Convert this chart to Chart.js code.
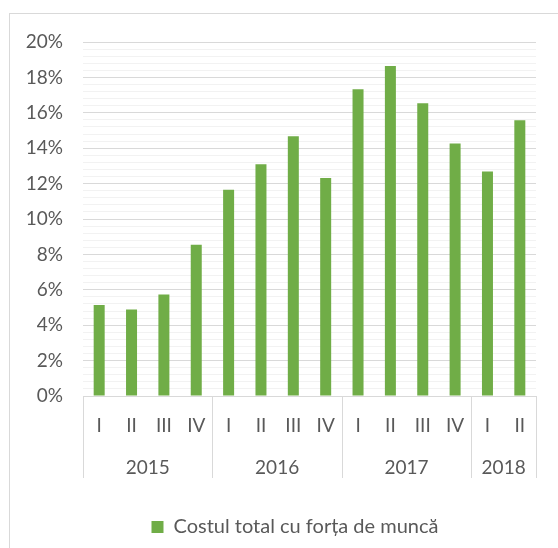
<!DOCTYPE html>
<html lang="ro">
<head>
<meta charset="UTF-8">
<title>Costul total cu forța de muncă</title>
<style>
  body { margin: 0; background: #fff; }
  .cadru { position: absolute; left: 9px; top: 13px; width: 600px; height: 600px; border: 1px solid #d9d9d9; }
  #grafic { position: absolute; left: 0; top: 0; }
</style>
</head>
<body>
<div class="cadru"></div>
<canvas id="grafic" width="558" height="548"></canvas>

<script src="https://cdn.jsdelivr.net/npm/chart.js"></script>
<script>
    // date
    const trimestre = ['I', 'II', 'III', 'IV', 'I', 'II', 'III', 'IV', 'I', 'II', 'III', 'IV', 'I', 'II'];
    const ani = ['2015', '2016', '2017', '2018'];
    const trimestrePeAn = [4, 4, 4, 2];
    const costTotal = [5.14, 4.89, 5.74, 8.54, 11.65, 13.10, 14.68, 12.32, 17.33, 18.65, 16.54, 14.26, 12.68, 15.58];
    const etichetaSerie = 'Costul total cu forța de muncă';

    const culoareGrila = '#d9d9d9';

    // separatoare si anii sub axa x
    const grupuriAni = {
        id: 'grupuriAni',
        afterLayout(chart) {
            // legenda e centrata pe tot cadrul, nu doar pe zona graficului
            chart.legend.left += 27;
            chart.legend.right += 27;
        },
        afterDraw(chart) {
            const x = chart.scales.x;
            const ctx = chart.ctx;
            const sus = chart.chartArea.bottom;
            const jos = sus + 82;
            ctx.save();
            ctx.strokeStyle = culoareGrila;
            ctx.lineWidth = 1;
            ctx.fillStyle = '#595959';
            ctx.font = '19px Lato';
            ctx.textAlign = 'center';
            ctx.textBaseline = 'middle';
            let start = 0;
            const linie = (px) => {
                const xx = Math.round(px) + 0.5;
                ctx.beginPath();
                ctx.moveTo(xx, sus);
                ctx.lineTo(xx, jos);
                ctx.stroke();
            };
            linie(x.getPixelForValue(-0.5));
            trimestrePeAn.forEach(function (n, i) {
                const a = x.getPixelForValue(start - 0.5);
                const b = x.getPixelForValue(start + n - 0.5);
                linie(b);
                ctx.fillText(ani[i], (a + b) / 2, sus + 72);
                start += n;
            });
            ctx.restore();
        }
    };

    Chart.defaults.font.family = 'Lato';
    Chart.defaults.font.size = 19;
    Chart.defaults.color = '#595959';

    new Chart(document.getElementById('grafic'), {
        type: 'bar',
        data: {
            labels: trimestre,
            datasets: [{
                label: etichetaSerie,
                data: costTotal,
                backgroundColor: '#70ad47',
                borderWidth: 0,
                categoryPercentage: 1,
                barPercentage: 0.34
            }]
        },
        options: {
            responsive: false,
            animation: false,
            layout: { padding: { top: 42, right: 22, bottom: 1, left: 0 } },
            plugins: {
                tooltip: { enabled: false },
                legend: {
                    position: 'bottom',
                    labels: { boxWidth: 12, boxHeight: 12, padding: 10, font: { size: 20 } }
                }
            },
            scales: {
                x: {
                    grid: { display: false },
                    border: { display: false },
                    ticks: { padding: 10, maxRotation: 0, autoSkip: false },
                    afterFit(scale) { scale.height = 111; }
                },
                y: {
                    min: 0,
                    max: 20,
                    border: { display: false },
                    grid: {
                        drawTicks: false,
                        color: (c) => (Math.abs(c.tick.value / 2 - Math.round(c.tick.value / 2)) < 1e-6 ? culoareGrila : '#f2f2f2')
                    },
                    ticks: {
                        stepSize: 0.4,
                        autoSkip: false,
                        padding: 20,
                        callback: (v) => (Math.abs(v / 2 - Math.round(v / 2)) < 1e-6 ? Math.round(v) + '%' : '')
                    },
                    afterFit(scale) { scale.width = 83; }
                }
            }
        },
        plugins: [grupuriAni]
    });
</script>
</body>
</html>
